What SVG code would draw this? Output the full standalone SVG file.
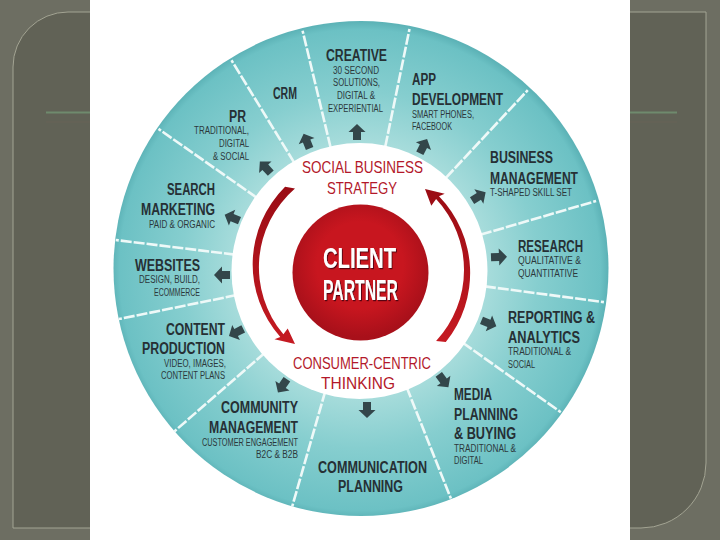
<svg xmlns="http://www.w3.org/2000/svg" width="720" height="540" viewBox="0 0 720 540">
<defs>
<radialGradient id="teal" cx="360" cy="270" r="248" gradientUnits="userSpaceOnUse">
<stop offset="0.5" stop-color="#a9dddc"/>
<stop offset="0.72" stop-color="#86cecf"/>
<stop offset="0.97" stop-color="#6cc1c4"/>
<stop offset="1" stop-color="#5db3b7"/>
</radialGradient>
<radialGradient id="redc" cx="360" cy="265" r="72" gradientUnits="userSpaceOnUse">
<stop offset="0.6" stop-color="#c8161f"/>
<stop offset="1" stop-color="#a8101a"/>
</radialGradient>
<linearGradient id="redarc" x1="0" y1="0" x2="0" y2="1">
<stop offset="0" stop-color="#9a0c14"/>
<stop offset="1" stop-color="#c51a22"/>
</linearGradient>
<path id="blk" d="M0,-9 L8.5,-1 L4,-1 L4,7 L-4,7 L-4,-1 L-8.5,-1 Z"/>
<filter id="sh" x="-10%" y="-10%" width="130%" height="130%">
<feDropShadow dx="1" dy="1.2" stdDeviation="0.6" flood-color="#3a0508" flood-opacity="0.8"/>
</filter>
</defs>
<style>
.t{font-family:"Liberation Sans",Arial,sans-serif;font-weight:bold;font-size:16px;fill:#263035}
.s{font-family:"Liberation Sans",Arial,sans-serif;font-size:10px;fill:#2c383b}
.r{font-family:"Liberation Sans",Arial,sans-serif;font-size:16.5px;fill:#b3182a}
.c{font-family:"Liberation Sans",Arial,sans-serif;font-weight:bold;font-size:29px;fill:#ffffff}
.div{stroke:#eef9f8;stroke-width:2.6;stroke-dasharray:11 2;fill:none;stroke-linecap:butt}
.arw{fill:#33464a}
</style>
<rect x="0" y="0" width="720" height="540" fill="#6d6e62"/>
<path d="M13,67 A55,55 0 0 1 68,12 L706,12 L706,463 A65,65 0 0 1 641,528 L13,528 Z" fill="#616256" stroke="#a3a493" stroke-width="1"/>
<line x1="46" y1="112.5" x2="90" y2="112.5" stroke="#6f8a6d" stroke-width="2"/>
<line x1="630" y1="112.5" x2="677" y2="112.5" stroke="#6f8a6d" stroke-width="2"/>
<line x1="46" y1="122" x2="90" y2="122" stroke="#6d6258" stroke-width="1" opacity="0.6"/>
<line x1="630" y1="122" x2="677" y2="122" stroke="#6d6258" stroke-width="1" opacity="0.6"/>
<rect x="90" y="0" width="540" height="540" fill="#ffffff"/>
<g id="wheel">
<circle cx="361" cy="268.5" r="247.5" fill="url(#teal)"/>
<g id="dividers">
<line class="div" x1="330.6" y1="147.5" x2="302.6" y2="30.8"/>
<line class="div" x1="294.2" y1="162.6" x2="231.5" y2="60.3"/>
<line class="div" x1="256.8" y1="197.7" x2="158.5" y2="128.9"/>
<line class="div" x1="234.9" y1="254.6" x2="115.8" y2="240.0"/>
<line class="div" x1="236.5" y1="295.1" x2="118.9" y2="319.1"/>
<line class="div" x1="264.9" y1="352.7" x2="174.3" y2="431.4"/>
<line class="div" x1="325.3" y1="391.1" x2="292.2" y2="506.5"/>
<line class="div" x1="406.6" y1="387.1" x2="450.9" y2="498.6"/>
<line class="div" x1="462.8" y1="342.8" x2="560.8" y2="412.2"/>
<line class="div" x1="484.9" y1="286.4" x2="603.9" y2="302.1"/>
<line class="div" x1="480.9" y1="234.6" x2="596.1" y2="201.0"/>
<line class="div" x1="445.9" y1="177.8" x2="527.8" y2="90.1"/>
<line class="div" x1="385.3" y1="146.6" x2="409.5" y2="29.0"/>
</g>
<circle cx="359.5" cy="271" r="128" fill="#ffffff"/>
</g>
<g id="connectors">
<use href="#blk" class="arw" transform="translate(357,133) rotate(0)"/>
<use href="#blk" class="arw" transform="translate(423,147) rotate(27)"/>
<use href="#blk" class="arw" transform="translate(478,197) rotate(58)"/>
<use href="#blk" class="arw" transform="translate(498,257) rotate(88)"/>
<use href="#blk" class="arw" transform="translate(488,323) rotate(112)"/>
<use href="#blk" class="arw" transform="translate(443,380) rotate(143)"/>
<use href="#blk" class="arw" transform="translate(367,409) rotate(180)"/>
<use href="#blk" class="arw" transform="translate(283,385) rotate(214)"/>
<use href="#blk" class="arw" transform="translate(237,332) rotate(243)"/>
<use href="#blk" class="arw" transform="translate(223,275) rotate(270)"/>
<use href="#blk" class="arw" transform="translate(233,218) rotate(-68)"/>
<use href="#blk" class="arw" transform="translate(266,168) rotate(-43)"/>
<use href="#blk" class="arw" transform="translate(307,142) rotate(-22)"/>
<path id="arc-left" fill="url(#redarc)" d="M285.1,186.8 A109,109 0 0 0 280.3,336.9 L274.5,339.2 L295,344 L287.7,328.5 L283.4,334.3 A104,104 0 0 1 295,188.5 Z"/>
<path id="arc-right" fill="url(#redarc)" d="M445.8,342 A110,110 0 0 0 439,196.3 L444.7,193.7 L425,189 L431.3,205.8 L436.1,199.1 A104,104 0 0 1 436.1,340.9 Z"/>
</g>
<g id="client-partner">
<circle cx="360.5" cy="272.5" r="68" fill="url(#redc)"/>
<text class="c" x="323" y="268" textLength="73" lengthAdjust="spacingAndGlyphs" filter="url(#sh)">CLIENT</text>
<text class="c" x="323" y="300" textLength="75" lengthAdjust="spacingAndGlyphs" filter="url(#sh)">PARTNER</text>
</g>
<g id="social-business-strategy">
<text class="r" x="302" y="173" textLength="121" lengthAdjust="spacingAndGlyphs">SOCIAL BUSINESS</text>
<text class="r" x="327" y="194" textLength="70" lengthAdjust="spacingAndGlyphs">STRATEGY</text>
</g>
<g id="consumer-centric-thinking">
<text class="r" x="293" y="369" textLength="138" lengthAdjust="spacingAndGlyphs">CONSUMER-CENTRIC</text>
<text class="r" x="321" y="389" textLength="74" lengthAdjust="spacingAndGlyphs">THINKING</text>
</g>
<g id="creative">
<text class="t" x="326" y="61" textLength="61" lengthAdjust="spacingAndGlyphs">CREATIVE</text>
<text class="s" x="333" y="74" textLength="46" lengthAdjust="spacingAndGlyphs">30 SECOND</text>
<text class="s" x="333" y="86" textLength="47" lengthAdjust="spacingAndGlyphs">SOLUTIONS,</text>
<text class="s" x="337" y="99" textLength="38" lengthAdjust="spacingAndGlyphs">DIGITAL &amp;</text>
<text class="s" x="328" y="112" textLength="55" lengthAdjust="spacingAndGlyphs">EXPERIENTIAL</text>
</g>
<g id="app-development">
<text class="t" x="412" y="85" textLength="24" lengthAdjust="spacingAndGlyphs">APP</text>
<text class="t" x="412" y="105" textLength="91" lengthAdjust="spacingAndGlyphs">DEVELOPMENT</text>
<text class="s" x="412" y="118" textLength="62" lengthAdjust="spacingAndGlyphs">SMART PHONES,</text>
<text class="s" x="412" y="130" textLength="40" lengthAdjust="spacingAndGlyphs">FACEBOOK</text>
</g>
<g id="business-management">
<text class="t" x="490" y="163" textLength="63" lengthAdjust="spacingAndGlyphs">BUSINESS</text>
<text class="t" x="490" y="184" textLength="88" lengthAdjust="spacingAndGlyphs">MANAGEMENT</text>
<text class="s" x="490" y="196" textLength="82" lengthAdjust="spacingAndGlyphs">T-SHAPED SKILL SET</text>
</g>
<g id="research">
<text class="t" x="518" y="252" textLength="65" lengthAdjust="spacingAndGlyphs">RESEARCH</text>
<text class="s" x="518" y="264" textLength="63" lengthAdjust="spacingAndGlyphs">QUALITATIVE &amp;</text>
<text class="s" x="518" y="277" textLength="60" lengthAdjust="spacingAndGlyphs">QUANTITATIVE</text>
</g>
<g id="reporting-analytics">
<text class="t" x="508" y="323" textLength="87" lengthAdjust="spacingAndGlyphs">REPORTING &amp;</text>
<text class="t" x="508" y="343" textLength="72" lengthAdjust="spacingAndGlyphs">ANALYTICS</text>
<text class="s" x="508" y="355" textLength="63" lengthAdjust="spacingAndGlyphs">TRADITIONAL &amp;</text>
<text class="s" x="508" y="368" textLength="27" lengthAdjust="spacingAndGlyphs">SOCIAL</text>
</g>
<g id="media-planning-buying">
<text class="t" x="454" y="400" textLength="38" lengthAdjust="spacingAndGlyphs">MEDIA</text>
<text class="t" x="454" y="420" textLength="64" lengthAdjust="spacingAndGlyphs">PLANNING</text>
<text class="t" x="454" y="439" textLength="62" lengthAdjust="spacingAndGlyphs">&amp; BUYING</text>
<text class="s" x="454" y="452" textLength="62" lengthAdjust="spacingAndGlyphs">TRADITIONAL &amp;</text>
<text class="s" x="454" y="464" textLength="29" lengthAdjust="spacingAndGlyphs">DIGITAL</text>
</g>
<g id="communication-planning">
<text class="t" x="318" y="473" textLength="109" lengthAdjust="spacingAndGlyphs">COMMUNICATION</text>
<text class="t" x="338" y="492" textLength="65" lengthAdjust="spacingAndGlyphs">PLANNING</text>
</g>
<g id="community-management">
<text class="t" x="221" y="413" textLength="77" lengthAdjust="spacingAndGlyphs">COMMUNITY</text>
<text class="t" x="209" y="433" textLength="89" lengthAdjust="spacingAndGlyphs">MANAGEMENT</text>
<text class="s" x="202" y="446" textLength="96" lengthAdjust="spacingAndGlyphs">CUSTOMER ENGAGEMENT</text>
<text class="s" x="256" y="458" textLength="42" lengthAdjust="spacingAndGlyphs">B2C &amp; B2B</text>
</g>
<g id="content-production">
<text class="t" x="166" y="335" textLength="59" lengthAdjust="spacingAndGlyphs">CONTENT</text>
<text class="t" x="142" y="354" textLength="83" lengthAdjust="spacingAndGlyphs">PRODUCTION</text>
<text class="s" x="164" y="367" textLength="62" lengthAdjust="spacingAndGlyphs">VIDEO, IMAGES,</text>
<text class="s" x="161" y="379" textLength="64" lengthAdjust="spacingAndGlyphs">CONTENT PLANS</text>
</g>
<g id="websites">
<text class="t" x="135" y="271" textLength="65" lengthAdjust="spacingAndGlyphs">WEBSITES</text>
<text class="s" x="139" y="283" textLength="61" lengthAdjust="spacingAndGlyphs">DESIGN, BUILD,</text>
<text class="s" x="154" y="296" textLength="46" lengthAdjust="spacingAndGlyphs">ECOMMERCE</text>
</g>
<g id="search-marketing">
<text class="t" x="167" y="195" textLength="48" lengthAdjust="spacingAndGlyphs">SEARCH</text>
<text class="t" x="141" y="215" textLength="74" lengthAdjust="spacingAndGlyphs">MARKETING</text>
<text class="s" x="149" y="228" textLength="66" lengthAdjust="spacingAndGlyphs">PAID &amp; ORGANIC</text>
</g>
<g id="pr">
<text class="t" x="229" y="122" textLength="17" lengthAdjust="spacingAndGlyphs">PR</text>
<text class="s" x="194" y="134" textLength="55" lengthAdjust="spacingAndGlyphs">TRADITIONAL,</text>
<text class="s" x="219" y="147" textLength="30" lengthAdjust="spacingAndGlyphs">DIGITAL</text>
<text class="s" x="213" y="160" textLength="36" lengthAdjust="spacingAndGlyphs">&amp; SOCIAL</text>
</g>
<g id="crm">
<text class="t" x="273" y="99" textLength="24" lengthAdjust="spacingAndGlyphs">CRM</text>
</g>
</svg>
